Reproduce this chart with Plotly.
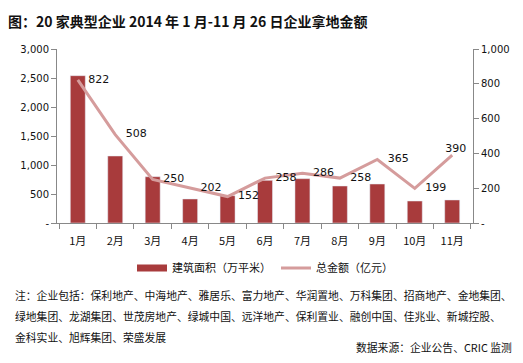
import plotly.graph_objects as go

months = ["1月", "2月", "3月", "4月", "5月", "6月", "7月", "8月", "9月", "10月", "11月"]
area = [2540, 1155, 798, 414, 471, 736, 764, 638, 672, 379, 397]
amount = [822, 508, 250, 202, 152, 258, 286, 258, 365, 199, 390]
left_ticks = [0, 500, 1000, 1500, 2000, 2500, 3000]
left_text = ["-", "500", "1,000", "1,500", "2,000", "2,500", "3,000"]
right_ticks = [0, 200, 400, 600, 800, 1000]
right_text = ["-", "200", "400", "600", "800", "1,000"]
label_pos = ["middle right"] * 10 + ["top center"]

W, H = 523, 363
L, R, T, B = 57, 50, 49, 140
ph = H - T - B
pw = W - L - R

def py(y):
    return (H - B - y) / ph

def px(x):
    return (x - L) / pw

CJK = "Noto Sans CJK SC"
NUM = "DejaVu Sans"
BAR = "#A83B3C"
LINE = "#D59C9C"

fig = go.Figure()
fig.add_trace(go.Bar(
    x=months, y=area, name="建筑面积（万平米）", legendgroup="a", showlegend=False,
    marker=dict(color=BAR), width=0.4,
))
# legend proxy so the swatch looks like a wide bar
fig.add_trace(go.Scatter(
    x=[None], y=[None], name="建筑面积（万平米）", legendgroup="a", mode="lines",
    line=dict(color=BAR, width=7),
))
fig.add_trace(go.Scatter(
    x=months, y=amount, name="总金额（亿元）", yaxis="y2",
    mode="lines+text", line=dict(color=LINE, width=3),
    text=["   " + str(v) for v in amount[:-1]] + ["  " + str(amount[-1])],
    textposition=label_pos,
    textfont=dict(family=NUM, size=11, color="#111"),
))

notes = [
    "注：企业包括：保利地产、中海地产、雅居乐、富力地产、华润置地、万科集团、招商地产、金地集团、",
    "绿地集团、龙湖集团、世茂房地产、绿城中国、远洋地产、保利置业、融创中国、佳兆业、新城控股、",
    "金科实业、旭辉集团、荣盛发展",
]
ann = []
for i, t in enumerate(notes):
    ann.append(dict(text=t, xref="paper", yref="paper", x=px(13), y=py(295 + 21 * i),
                    xanchor="left", yanchor="middle", showarrow=False,
                    font=dict(family=CJK, size=10.8, color="#111")))
ann.append(dict(text="数据来源：企业公告、CRIC 监测", xref="paper", yref="paper",
                x=px(514), y=py(347), xanchor="right", yanchor="middle", showarrow=False,
                font=dict(family=CJK, size=10.8, color="#111")))

fig.update_layout(
    width=W, height=H,
    margin=dict(l=L, r=R, t=T, b=B),
    paper_bgcolor="white", plot_bgcolor="white",
    title=dict(text="<b>图：20 家典型企业 2014 年 1 月-11 月 26 日企业拿地金额</b>",
               x=8 / W, xref="container", xanchor="left",
               y=1 - 22 / H, yref="container", yanchor="middle",
               font=dict(family=CJK, size=14, color="#111")),
    font=dict(family=CJK, size=11, color="#111"),
    showlegend=True,
    legend=dict(orientation="h", x=0.5, xanchor="center", y=py(268), yanchor="middle",
                font=dict(family=CJK, size=11, color="#111"), itemwidth=30),
    xaxis=dict(showline=True, linecolor="#888", ticks="outside", ticklen=5, tickcolor="#888",
               tickson="boundaries", tickfont=dict(family=CJK, size=11, color="#111"),
               ticklabelstandoff=8, showgrid=False, automargin=False),
    yaxis=dict(range=[0, 3000], tickvals=left_ticks, ticktext=left_text, showline=True,
               linecolor="#888", ticks="outside", ticklen=5, tickcolor="#888", showgrid=False,
               zeroline=False, automargin=False, tickfont=dict(family=NUM, size=10, color="#111")),
    yaxis2=dict(range=[0, 1000], tickvals=right_ticks, ticktext=right_text, overlaying="y",
                side="right", showline=True, linecolor="#888", ticks="outside", ticklen=5,
                tickcolor="#888", showgrid=False, zeroline=False, automargin=False,
                tickfont=dict(family=NUM, size=10, color="#111")),
    annotations=ann,
)
fig.write_html("out.html", config={"displayModeBar": False},
               post_script="document.body.style.margin='0';document.body.style.overflow='hidden';")
